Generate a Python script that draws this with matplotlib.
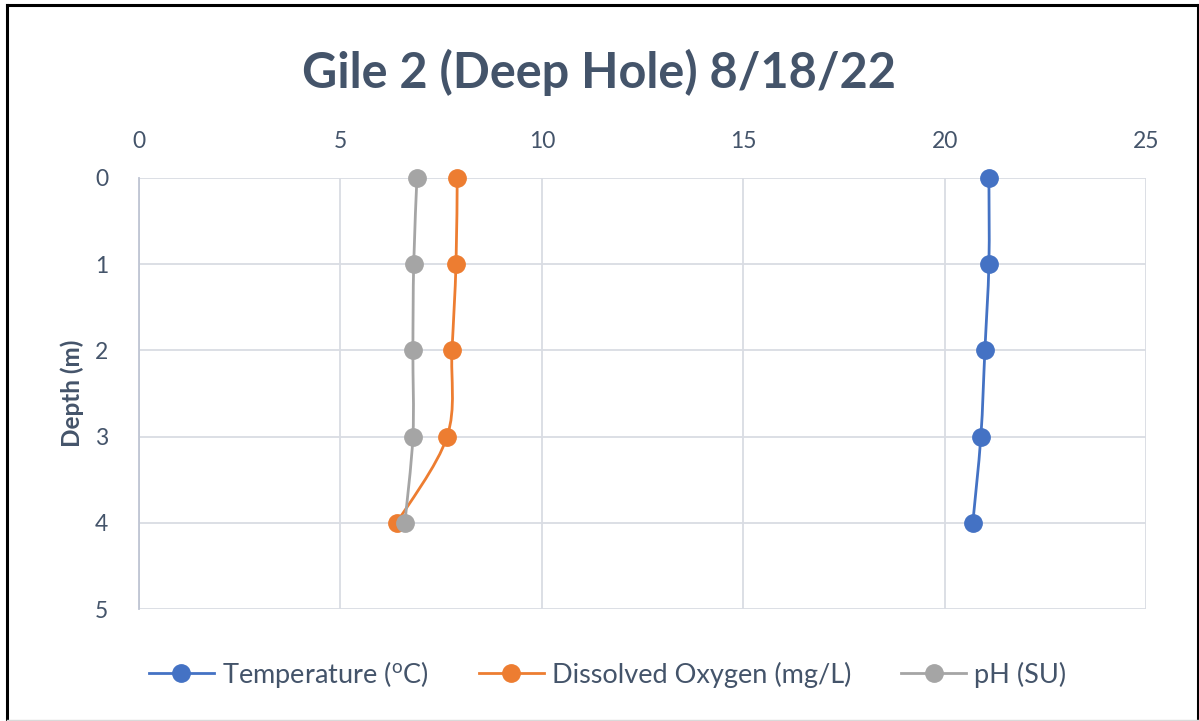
import matplotlib
matplotlib.use("Agg")
import matplotlib.pyplot as plt
from matplotlib.path import Path
from matplotlib.patches import PathPatch
from matplotlib.lines import Line2D

# --- Data ---
depth_m = [0, 1, 2, 3, 4]
temperature_c = [21.1, 21.1, 21.0, 20.9, 20.7]
dissolved_oxygen = [7.9, 7.87, 7.77, 7.65, 6.4]
ph_su = [6.9, 6.82, 6.8, 6.8, 6.6]

series_names = ["Temperature ($^\\mathregular{o}$C)", "Dissolved Oxygen (mg/L)", "pH (SU)"]
series_colors = ["#4472C4", "#ED7D31", "#A5A5A5"]
x_ticks = [0, 5, 10, 15, 20, 25]
y_ticks = [0, 1, 2, 3, 4, 5]

TEXT = "#44546A"
GRID = "#D9DCE3"

plt.rcParams["font.family"] = ["Lato", "DejaVu Sans"]
plt.rcParams["mathtext.default"] = "regular"


def smooth_path(xs, ys):
    """Excel-like smoothed line: Catmull-Rom segments as cubic beziers."""
    pts = list(zip(xs, ys))
    verts = [pts[0]]
    codes = [Path.MOVETO]
    n = len(pts)
    for i in range(n - 1):
        p0 = pts[i - 1] if i > 0 else pts[i]
        p1 = pts[i]
        p2 = pts[i + 1]
        p3 = pts[i + 2] if i + 2 < n else pts[i + 1]
        c1 = (p1[0] + (p2[0] - p0[0]) / 6, p1[1] + (p2[1] - p0[1]) / 6)
        c2 = (p2[0] - (p3[0] - p1[0]) / 6, p2[1] - (p3[1] - p1[1]) / 6)
        verts += [c1, c2, p2]
        codes += [Path.CURVE4] * 3
    return Path(verts, codes)


fig = plt.figure(figsize=(11.99, 7.21), dpi=100)
ax = fig.add_axes([139 / 1199, 1 - 609 / 721, (1146 - 139) / 1199, (609 - 178) / 721])

for vals, color in zip([temperature_c, dissolved_oxygen, ph_su], series_colors):
    ax.add_patch(PathPatch(smooth_path(vals, depth_m), facecolor="none",
                           edgecolor=color, lw=2.0, zorder=3, clip_on=False))
    ax.plot(vals, depth_m, linestyle="none", marker="o", markersize=12.5,
            color=color, zorder=4, clip_on=False)

ax.set_xlim(0, 25)
ax.set_ylim(5, 0)
ax.set_xticks(x_ticks)
ax.set_yticks(y_ticks)
ax.xaxis.tick_top()
ax.tick_params(axis="both", length=0, labelsize=16.5, labelcolor=TEXT)
ax.tick_params(axis="x", pad=19)
ax.tick_params(axis="y", pad=22)
ax.grid(True, color=GRID, lw=1.3)
ax.set_axisbelow(True)
for side in ["top", "right", "bottom"]:
    ax.spines[side].set_visible(False)
ax.spines["left"].set_color("#BFC5D3")
ax.spines["left"].set_linewidth(1.3)

ax.set_ylabel("Depth (m)", fontsize=17.5, fontweight="bold", color=TEXT, labelpad=8)

fig.text(0.5, 1 - 72 / 721, "Gile 2 (Deep Hole) 8/18/22", ha="center", va="center",
         fontsize=35, fontweight="bold", color=TEXT)

handles = [Line2D([], [], color=c, lw=2.0, marker="o", markersize=12.5) for c in series_colors]
leg = fig.legend(handles, series_names, loc="center", bbox_to_anchor=(0.5067, 1 - 674 / 721),
                 ncol=3, frameon=False, fontsize=19.5, handlelength=2.4,
                 columnspacing=1.85, handletextpad=0.3)
for t in leg.get_texts():
    t.set_color(TEXT)

# outer frame like the screenshot
fig.add_artist(Line2D([7 / 1199, 7 / 1199], [0, 1 - 5 / 721], transform=fig.transFigure, color="black", lw=2.2))
fig.add_artist(Line2D([7 / 1199, 1197.5 / 1199], [1 - 5 / 721, 1 - 5 / 721], transform=fig.transFigure, color="black", lw=2.2))
fig.add_artist(Line2D([1197.5 / 1199, 1197.5 / 1199], [0, 1 - 5 / 721], transform=fig.transFigure, color="black", lw=2.2))
fig.add_artist(Line2D([7 / 1199, 1197.5 / 1199], [0.8 / 721, 0.8 / 721], transform=fig.transFigure, color="#D9D9D9", lw=1))

fig.savefig("out.png", dpi=100)
